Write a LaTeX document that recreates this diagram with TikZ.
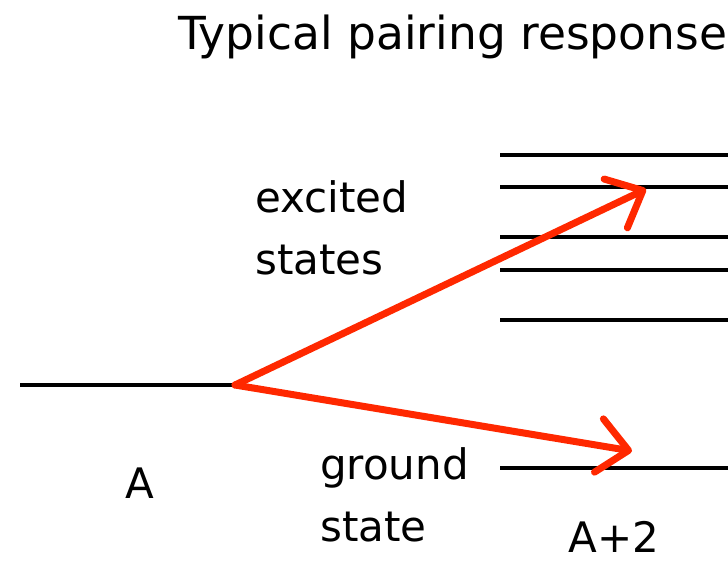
\documentclass[tikz,border=0pt]{standalone}
\usepackage{fontspec}
\setmainfont{DejaVu Sans}
\usetikzlibrary{arrows.meta}
\definecolor{arrred}{RGB}{255,40,0}
\tikzset{
  level/.style={line width=3.6pt, draw=black},
  resp/.style={line width=7pt, draw=arrred, line cap=round, line join=round,
    -{Straight Barb[length=30pt, width=54pt, round]}},
  lbl/.style={font=\fontsize{42}{62}\selectfont, align=left, inner sep=0pt, anchor=west},
}
\begin{document}
\begin{tikzpicture}[x=1pt, y=-1pt]
\useasboundingbox (0,0) rectangle (728,564);
\node[font=\fontsize{45.5}{56}\selectfont, anchor=base west, inner sep=0pt] (title) at (178,50) {Typical pairing response};
% A level
\coordinate (a0) at (20,385);
\coordinate (a1) at (235,385);
\draw[level] (a0) -- (a1);
% A+2 levels
\foreach \y/\n in {155/e1,187/e2,237/e3,270/e4,320/e5,468/g}{
  \coordinate (\n L) at (500,\y);
  \coordinate (\n R) at (728,\y);
  \draw[level] (\n L) -- (\n R);
}
\coordinate (tipE) at (646,189);
\coordinate (tipG) at (632,451);
\draw[resp] (a1) -- (tipE);
\draw[resp] (a1) -- (tipG);
\node[lbl] (exc) at (255,228) {excited\\states};
\node[lbl] (gnd) at (320,495) {ground\\state};
\node[font=\fontsize{42}{56}\selectfont, inner sep=0pt] (A) at (140,483) {A};
\node[font=\fontsize{42}{56}\selectfont, inner sep=0pt] (A2) at (614,537) {A+2};
\end{tikzpicture}
\end{document}
